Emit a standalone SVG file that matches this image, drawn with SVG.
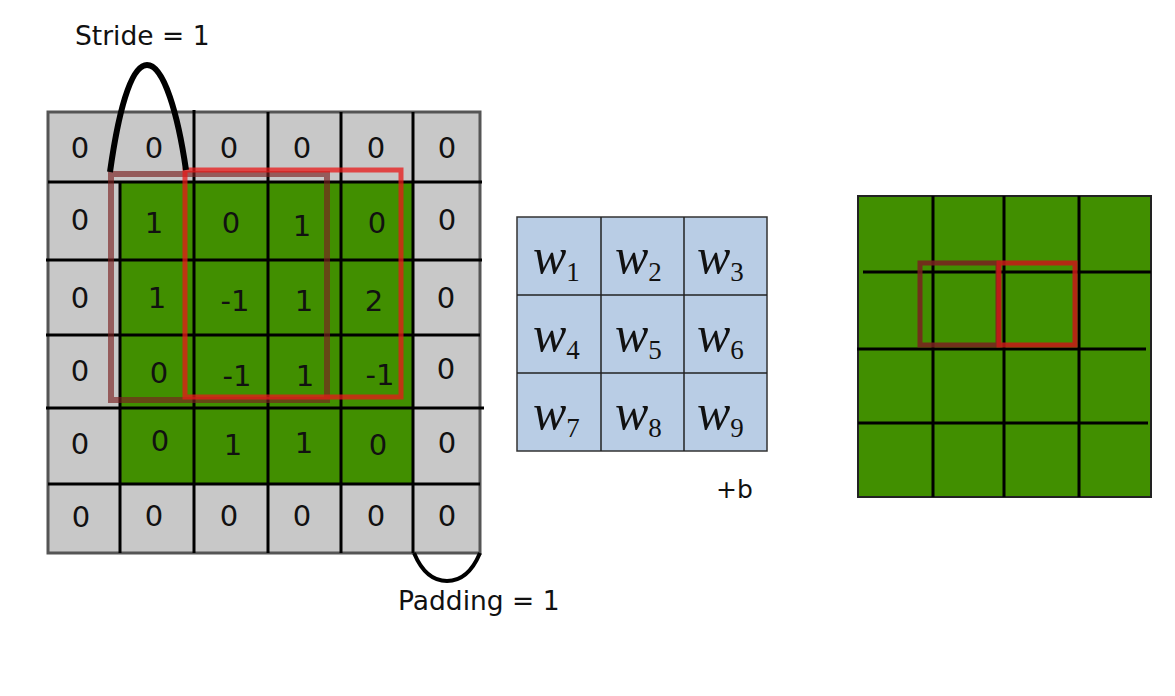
<svg xmlns="http://www.w3.org/2000/svg" width="1175" height="696" viewBox="0 0 1175 696">
<style>
.num{font-family:"DejaVu Sans",sans-serif;font-size:29px;fill:#111;text-anchor:middle}
.lbl{font-family:"DejaVu Sans",sans-serif;font-size:26.5px;fill:#111}
.w{font-family:"Liberation Serif",serif;font-style:italic;font-size:50px;fill:#111}
.sub{font-family:"Liberation Serif",serif;font-size:27px;fill:#111;font-style:normal}
.grid{stroke:#000;stroke-width:3;fill:none}
.thin{stroke:#222;stroke-width:1.5;fill:none}
</style>
<rect width="1175" height="696" fill="#fff"/>
<g id="input">
<rect x="48" y="112" width="432" height="441" fill="#c8c8c8" stroke="#555" stroke-width="3"/>
<rect x="120" y="182" width="293" height="302" fill="#418f00"/>
<g class="grid">
<line x1="120" y1="182" x2="120" y2="553"/>
<line x1="194" y1="110" x2="194" y2="553"/>
<line x1="268" y1="112" x2="268" y2="553"/>
<line x1="341" y1="112" x2="341" y2="553"/>
<line x1="413" y1="112" x2="413" y2="553"/>
<line x1="48" y1="182" x2="482" y2="182"/>
<line x1="46" y1="260" x2="482" y2="260"/>
<line x1="46" y1="335" x2="480" y2="335"/>
<line x1="46" y1="408" x2="484" y2="408"/>
<line x1="48" y1="484" x2="480" y2="484"/>
</g>
<g class="num">
<text x="80" y="158">0</text><text x="154" y="158">0</text><text x="229" y="158">0</text><text x="302" y="158">0</text><text x="376" y="158">0</text><text x="447" y="158">0</text>
<text x="80" y="230">0</text><text x="154" y="233">1</text><text x="231" y="233">0</text><text x="302" y="236">1</text><text x="377" y="233">0</text><text x="447" y="230">0</text>
<text x="80" y="308">0</text><text x="157" y="308">1</text><text x="235" y="311">-1</text><text x="304" y="311">1</text><text x="374" y="311">2</text><text x="446" y="308">0</text>
<text x="80" y="381">0</text><text x="159" y="383">0</text><text x="237" y="386">-1</text><text x="305" y="386">1</text><text x="380" y="385">-1</text><text x="446" y="379">0</text>
<text x="80" y="454">0</text><text x="160" y="451">0</text><text x="233" y="455">1</text><text x="304" y="453">1</text><text x="378" y="455">0</text><text x="447" y="453">0</text>
<text x="81" y="527">0</text><text x="154" y="526">0</text><text x="229" y="526">0</text><text x="302" y="526">0</text><text x="376" y="526">0</text><text x="447" y="526">0</text>
</g>
<rect x="111" y="174" width="216" height="226" fill="none" stroke="#7a2020" stroke-opacity="0.65" stroke-width="6"/>
<rect x="185" y="170" width="216" height="227" fill="none" stroke="#e81818" stroke-opacity="0.75" stroke-width="5"/>
</g>
<g id="connectors" fill="none" stroke="#000">
<path d="M110,172 C118,115 130,65 147,65 C164,65 178,115 186,170" stroke-width="6"/>
<path d="M414,553 C422,572 434,581 447,581 C460,581 472,572 480,553" stroke-width="4"/>
</g>
<g id="labels">
<text class="lbl" x="75" y="45">Stride = 1</text>
<text class="lbl" x="398" y="610">Padding = 1</text>
<text class="lbl" x="716" y="498" style="font-size:25px">+b</text>
</g>
<g id="kernel">
<rect x="517" y="217" width="250" height="234" fill="#b9cde5" stroke="#333" stroke-width="1.5"/>
<g class="thin">
<line x1="601" y1="217" x2="601" y2="451"/>
<line x1="684" y1="217" x2="684" y2="451"/>
<line x1="517" y1="295" x2="767" y2="295"/>
<line x1="517" y1="373" x2="767" y2="373"/>
</g>
<text class="w" x="533" y="273">w<tspan class="sub" dy="8">1</tspan></text>
<text class="w" x="615" y="273">w<tspan class="sub" dy="8">2</tspan></text>
<text class="w" x="697" y="273">w<tspan class="sub" dy="8">3</tspan></text>
<text class="w" x="533" y="351">w<tspan class="sub" dy="8">4</tspan></text>
<text class="w" x="615" y="351">w<tspan class="sub" dy="8">5</tspan></text>
<text class="w" x="697" y="351">w<tspan class="sub" dy="8">6</tspan></text>
<text class="w" x="533" y="429">w<tspan class="sub" dy="8">7</tspan></text>
<text class="w" x="615" y="429">w<tspan class="sub" dy="8">8</tspan></text>
<text class="w" x="697" y="429">w<tspan class="sub" dy="8">9</tspan></text>
</g>
<g id="output">
<rect x="858" y="196" width="293" height="301" fill="#418f00" stroke="#222" stroke-width="2"/>
<g class="grid" stroke-width="2.5">
<line x1="933" y1="196" x2="933" y2="497"/>
<line x1="1004" y1="196" x2="1004" y2="497"/>
<line x1="1079" y1="196" x2="1079" y2="497"/>
<line x1="863" y1="272" x2="1151" y2="272"/>
<line x1="857" y1="349" x2="1146" y2="349"/>
<line x1="858" y1="423" x2="1148" y2="423"/>
</g>
<rect x="920" y="263" width="78" height="82" fill="none" stroke="#7a2020" stroke-opacity="0.85" stroke-width="5"/>
<rect x="999" y="263" width="76" height="82" fill="none" stroke="#c81818" stroke-opacity="0.85" stroke-width="5"/>
</g>
</svg>
